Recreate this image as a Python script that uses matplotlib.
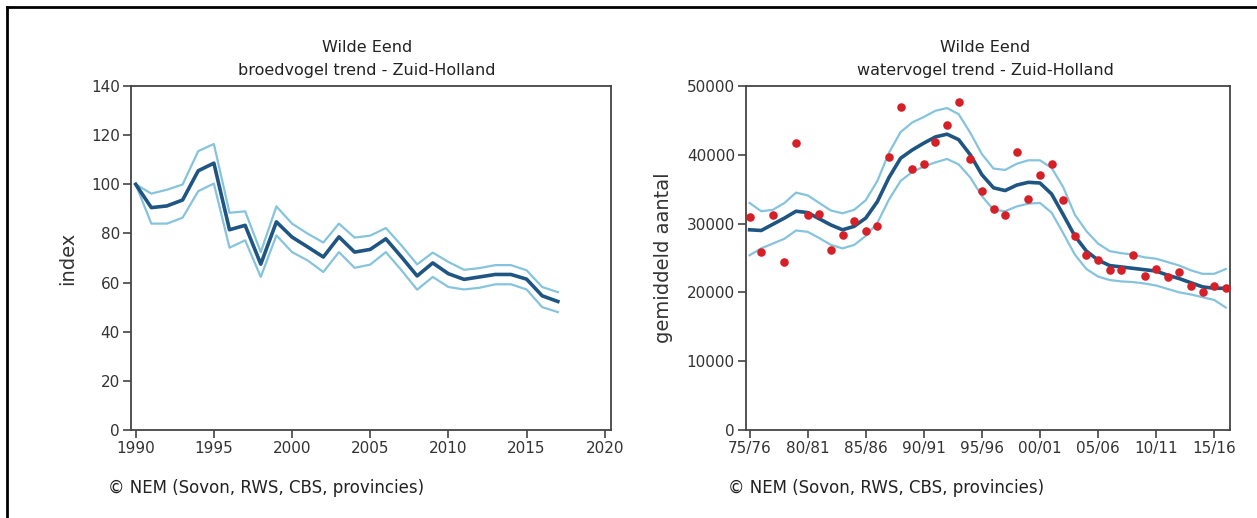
import matplotlib
matplotlib.use("Agg")
import matplotlib.pyplot as plt
from matplotlib.lines import Line2D

# ---------------- data: left (broedvogel trend, index) ----------------
years = [1990, 1991, 1992, 1993, 1994, 1995, 1996, 1997, 1998, 1999,
         2000, 2001, 2002, 2003, 2004, 2005, 2006, 2007, 2008, 2009,
         2010, 2011, 2012, 2013, 2014, 2015, 2016, 2017]
index_trend = [100, 90.5, 91.2, 93.6, 105.5, 108.6, 81.5, 83.3, 67.5, 84.7,
               78.5, 74.5, 70.4, 78.6, 72.4, 73.5, 77.8, 70.4, 62.7, 68.0,
               63.6, 61.3, 62.3, 63.3, 63.3, 61.4, 54.6, 52.3]
index_upper = [100, 96.2, 97.8, 99.9, 113.5, 116.4, 88.4, 89.0, 72.4, 91.0,
               84.0, 79.9, 76.3, 84.0, 78.3, 79.1, 82.2, 75.1, 67.4, 72.2,
               68.4, 65.2, 65.9, 67.1, 67.1, 65.0, 58.2, 56.1]
index_lower = [100, 84.0, 84.0, 86.4, 97.2, 100.3, 74.2, 77.2, 62.3, 79.2,
               72.4, 69.0, 64.3, 72.4, 66.0, 67.3, 72.4, 65.0, 57.1, 62.3,
               58.2, 57.2, 57.9, 59.3, 59.3, 57.2, 50.0, 48.0]
left_xticks = [1990, 1995, 2000, 2005, 2010, 2015, 2020]
left_yticks = [0, 20, 40, 60, 80, 100, 120, 140]

# ---------------- data: right (watervogel trend, gemiddeld aantal) ----------------
seasons = list(range(42))  # 0 = 75/76 ... 41 = 16/17
counts = [30900, 25900, 31200, 24400, 41700, 31200, 31400, 26100, 28400, 30400,
          28900, 29700, 39700, 46900, 38000, 38700, 41900, 44400, 47700, 39400,
          34700, 32100, 31200, 40400, 33600, 37100, 38700, 33400, 28200, 25400,
          24700, 23200, 23200, 25400, 22400, 23400, 22200, 22900, 21000, 20100,
          20900, 20600]
count_trend = [29100, 29000, 29900, 30800, 31800, 31600, 30700, 29800, 29100, 29600,
               30800, 33200, 36700, 39500, 40700, 41700, 42600, 43000, 42200, 40000,
               37100, 35200, 34800, 35600, 36000, 35900, 34300, 31300, 28200, 26000,
               24700, 23900, 23700, 23500, 23300, 23100, 22500, 22000, 21400, 20800,
               20600, 20600]
count_upper = [33000, 31800, 32000, 33000, 34500, 34100, 33000, 31900, 31500, 32000,
               33400, 36200, 40300, 43300, 44700, 45500, 46400, 46800, 45900, 43200,
               40100, 38000, 37800, 38700, 39200, 39200, 38100, 35300, 31300, 28900,
               27100, 26000, 25700, 25500, 25100, 24900, 24400, 23900, 23200, 22700,
               22700, 23400]
count_lower = [25400, 26400, 27100, 27800, 29000, 28800, 27900, 26900, 26400, 26900,
               28200, 30100, 33500, 36200, 37500, 38300, 38900, 39400, 38600, 36700,
               34000, 32000, 31800, 32500, 32900, 33000, 31600, 28600, 25500, 23400,
               22300, 21800, 21600, 21500, 21300, 21000, 20500, 20000, 19700, 19300,
               18900, 17800]
right_xtick_pos = [0, 5, 10, 15, 20, 25, 30, 35, 40]
right_xtick_labels = ["75/76", "80/81", "85/86", "90/91", "95/96",
                      "00/01", "05/06", "10/11", "15/16"]
right_yticks = [0, 10000, 20000, 30000, 40000, 50000]

# ---------------- styling ----------------
W, H = 1257, 518
DARK = "#1f5582"
LIGHT = "#86c3dd"
RED = "#d42026"
TXT = "#333333"
SPINE = "#444444"

plt.rcParams['font.family'] = ['DejaVu Sans']

fig = plt.figure(figsize=(W / 100, H / 100), dpi=100)
fig.patch.set_facecolor("white")

def px_rect(x0, y0, x1, y1):
    return [x0 / W, 1 - y1 / H, (x1 - x0) / W, (y1 - y0) / H]

axL = fig.add_axes(px_rect(131, 86, 611, 430))
axR = fig.add_axes(px_rect(746, 86, 1230, 430))

for ax in (axL, axR):
    for s in ax.spines.values():
        s.set_color(SPINE)
        s.set_linewidth(1.3)
    ax.tick_params(direction="out", length=6, width=1.2, colors=SPINE,
                   labelcolor=TXT, labelsize=11, pad=2)

# left chart
axL.plot(years, index_upper, color=LIGHT, lw=1.6)
axL.plot(years, index_lower, color=LIGHT, lw=1.6)
axL.plot(years, index_trend, color=DARK, lw=2.6)
axL.set_xlim(1989.7, 2020.4)
axL.set_ylim(0, 140)
axL.set_xticks(left_xticks)
axL.set_yticks(left_yticks)
axL.set_ylabel("index", fontsize=14, color=TXT, labelpad=10)

# right chart
axR.plot(seasons, count_upper, color=LIGHT, lw=1.6)
axR.plot(seasons, count_lower, color=LIGHT, lw=1.6)
axR.plot(seasons, count_trend, color=DARK, lw=2.6)
axR.scatter(seasons, counts, s=38, color=RED, zorder=5, linewidths=0)
axR.set_xlim(-0.31, 41.36)
axR.set_ylim(0, 50000)
axR.set_xticks(right_xtick_pos)
axR.set_xticklabels(right_xtick_labels)
axR.set_yticks(right_yticks)
axR.set_ylabel("gemiddeld aantal", fontsize=14, color=TXT, labelpad=10)

# titles
for cx, sub in ((367, "broedvogel trend - Zuid-Holland"),
                (985, "watervogel trend - Zuid-Holland")):
    fig.text(cx / W, 1 - 47 / H, "Wilde Eend", ha="center", va="center",
             fontsize=11.5, color="#222222")
    fig.text(cx / W, 1 - 70 / H, sub, ha="center", va="center",
             fontsize=11.5, color="#222222")

# footers
for x0 in (108, 728):
    fig.text(x0 / W, 1 - 488 / H, "© NEM (Sovon, RWS, CBS, provincies)",
             ha="left", va="center", fontsize=12, color="#222222")

# outer frame (top and left edges visible)
fig.add_artist(Line2D([7 / W, 7 / W], [0, 1 - 7 / H], transform=fig.transFigure,
                      color="black", lw=2))
fig.add_artist(Line2D([7 / W, 1], [1 - 7 / H, 1 - 7 / H], transform=fig.transFigure,
                      color="black", lw=2))

fig.savefig("out.png", dpi=100, facecolor="white")
